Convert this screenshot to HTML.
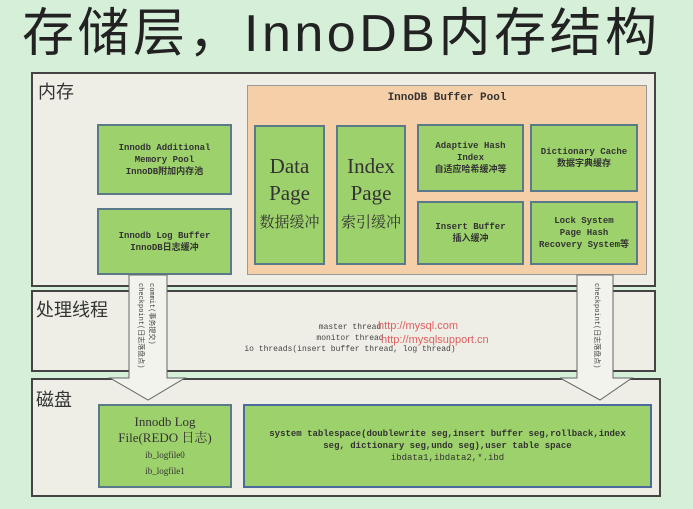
<!DOCTYPE html>
<html><head><meta charset="utf-8"><style>
body{margin:0;width:693px;height:509px;background:#d6efd9;position:relative;overflow:hidden;font-family:"Liberation Serif","Noto Serif CJK SC",serif}
.a{position:absolute;box-sizing:border-box}
.sec{background:#eeeee6;border:2px solid #444}
.g{background:#9dd16b;border:2px solid #5a7a8a;display:flex;align-items:center;justify-content:center;text-align:center;font-family:"Liberation Mono","Noto Sans CJK SC",monospace;font-weight:bold;font-size:9px;line-height:12px;color:#333}
.lbl{font-family:"Liberation Sans","Noto Sans CJK SC",sans-serif;font-size:18px;color:#333}
.big{font-family:"Liberation Serif","Noto Serif CJK SC",serif;font-weight:normal;font-size:21px;line-height:27px}
</style></head><body>
<div class="a" style="left:22px;top:3px;font-family:'Liberation Sans','Noto Sans CJK SC',sans-serif;font-size:52px;letter-spacing:3.5px;color:#222;white-space:nowrap;line-height:62px">存储层，InnoDB内存结构</div>

<div class="a sec" style="left:31px;top:72px;width:625px;height:215px"></div>
<div class="a lbl" style="left:38px;top:78px">内存</div>
<div class="a" style="left:247px;top:85px;width:400px;height:190px;background:#f5cfa8;border:1px solid #999"></div>
<div class="a" style="left:247px;top:92px;width:400px;text-align:center;font-family:'Liberation Mono',monospace;font-weight:bold;font-size:11px;color:#333">InnoDB Buffer Pool</div>
<div class="a g" style="left:97px;top:124px;width:135px;height:71px"><div>Innodb Additional<br>Memory Pool<br>InnoDB附加内存池</div></div>
<div class="a g" style="left:97px;top:208px;width:135px;height:67px"><div>Innodb Log Buffer<br>InnoDB日志缓冲</div></div>
<div class="a g big" style="left:254px;top:125px;width:71px;height:140px"><div>Data<br>Page<br><span style="font-size:15px">数据缓冲</span></div></div>
<div class="a g big" style="left:336px;top:125px;width:70px;height:140px"><div>Index<br>Page<br><span style="font-size:15px">索引缓冲</span></div></div>
<div class="a g" style="left:417px;top:124px;width:107px;height:68px"><div>Adaptive Hash<br>Index<br>自适应哈希缓冲等</div></div>
<div class="a g" style="left:530px;top:124px;width:108px;height:68px"><div>Dictionary Cache<br>数据字典缓存</div></div>
<div class="a g" style="left:417px;top:201px;width:107px;height:64px"><div>Insert Buffer<br>插入缓冲</div></div>
<div class="a g" style="left:530px;top:201px;width:108px;height:64px"><div>Lock System<br>Page Hash<br>Recovery System等</div></div>

<div class="a sec" style="left:31px;top:290px;width:625px;height:82px"></div>
<div class="a lbl" style="left:36px;top:296px">处理线程</div>
<div class="a" style="left:200px;top:322px;width:300px;text-align:center;font-family:'Liberation Mono',monospace;font-size:8px;line-height:11px;color:#444">master thread<br>monitor thread<br>io threads(insert buffer thread, log thread)</div>
<div class="a" style="left:378px;top:319px;font-family:'Liberation Sans',sans-serif;font-size:11px;color:#e06060;line-height:14px">http://mysql.com<br>&nbsp;http://mysqlsupport.cn</div>

<div class="a sec" style="left:31px;top:378px;width:630px;height:119px"></div>
<div class="a lbl" style="left:36px;top:386px">磁盘</div>
<div class="a g" style="left:98px;top:404px;width:134px;height:84px;font-weight:normal;font-family:'Liberation Serif','Noto Serif CJK SC',serif;font-size:13px;line-height:16px"><div>Innodb Log<br>File(REDO 日志)<br><span style="font-size:9px;line-height:11px">ib_logfile0<br>ib_logfile1</span></div></div>
<div class="a g" style="left:243px;top:404px;width:409px;height:84px;border-color:#4a6aa0"><div>system tablespace(doublewrite seg,insert buffer seg,rollback,index<br>seg, dictionary seg,undo seg),user table space<br><span style="font-weight:normal">ibdata1,ibdata2,*.ibd</span></div></div>

<svg class="a" style="left:0;top:0" width="693" height="509">
<g fill="#f3f3ee" stroke="#666" stroke-width="1">
<polygon points="129,275 167,275 167,378 185,378 148,400 110,378 129,378"/>
<polygon points="577,275 613,275 613,378 632,378 600,400 560,378 577,378"/>
</g>
<text font-family="Liberation Mono,Noto Sans CJK SC,monospace" font-size="7" fill="#444" transform="translate(139,283) rotate(90)">checkpoint(日志落盘点)</text>
<text font-family="Liberation Mono,Noto Sans CJK SC,monospace" font-size="7" fill="#444" transform="translate(150,283) rotate(90)">commit(事务提交)</text>
<text font-family="Liberation Mono,Noto Sans CJK SC,monospace" font-size="7" fill="#444" transform="translate(595,283) rotate(90)">checkpoint(日志落盘点)</text>
</svg>
</body></html>
